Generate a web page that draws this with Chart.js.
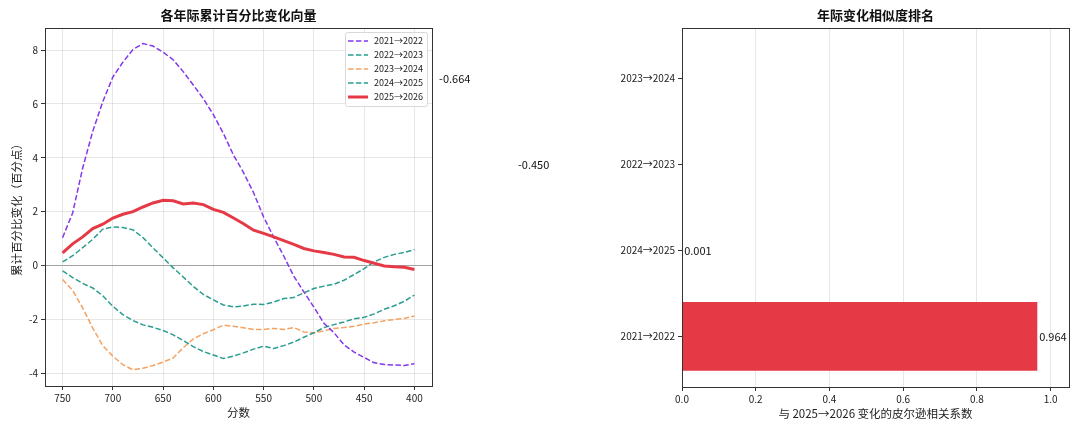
<!DOCTYPE html>
<html>
<head>
<meta charset="utf-8">
<script src="https://cdn.jsdelivr.net/npm/chart.js@4.4.1/dist/chart.umd.min.js"></script>
<style>
  html, body { margin: 0; padding: 0; background: #fff; }
  #wrap { position: relative; width: 1080px; height: 432px; }
  #leftBox { position: absolute; left: 0; top: 0; width: 445px; height: 432px; }
  #rightBox { position: absolute; left: 430px; top: 0; width: 650px; height: 432px; }
</style>
</head>
<body>
<div id="wrap">
  <div id="leftBox"><canvas id="lineChart"></canvas></div>
  <div id="rightBox"><canvas id="barChart"></canvas></div>
</div>
<script>
// ── Data ──
const scores = [750, 740, 730, 720, 710, 700, 690, 680, 670, 660, 650, 640, 630, 620, 610, 600, 590, 580,
                570, 560, 550, 540, 530, 520, 510, 500, 490, 480, 470, 460, 450, 440, 430, 420, 410, 400];

const chg2122 = [1.03, 1.95, 3.62, 4.98, 6.08, 7.00, 7.55, 8.02, 8.24, 8.15, 7.92, 7.64, 7.20, 6.70, 6.20, 5.60, 4.90, 4.10,
                 3.45, 2.70, 1.80, 1.05, 0.35, -0.40, -0.98, -1.55, -2.15, -2.50, -2.95, -3.22, -3.42, -3.62, -3.68, -3.70, -3.72, -3.65];
const chg2223 = [-0.20, -0.45, -0.67, -0.84, -1.13, -1.52, -1.83, -2.05, -2.21, -2.30, -2.42, -2.58, -2.79, -3.02, -3.20, -3.33, -3.46, -3.37,
                 -3.25, -3.11, -3.00, -3.09, -2.98, -2.85, -2.67, -2.50, -2.31, -2.20, -2.10, -1.98, -1.93, -1.80, -1.63, -1.50, -1.33, -1.10];
const chg2324 = [-0.52, -0.93, -1.58, -2.33, -2.98, -3.37, -3.69, -3.88, -3.82, -3.72, -3.59, -3.44, -3.06, -2.73, -2.54, -2.39, -2.22, -2.26,
                 -2.32, -2.38, -2.38, -2.34, -2.38, -2.31, -2.47, -2.51, -2.43, -2.34, -2.31, -2.26, -2.18, -2.13, -2.06, -2.01, -1.97, -1.88];
const chg2425 = [0.13, 0.36, 0.66, 0.97, 1.35, 1.43, 1.41, 1.32, 1.03, 0.65, 0.28, -0.09, -0.43, -0.78, -1.08, -1.28, -1.47, -1.54,
                 -1.51, -1.44, -1.45, -1.36, -1.23, -1.19, -1.02, -0.86, -0.77, -0.70, -0.55, -0.34, -0.12, 0.13, 0.30, 0.41, 0.48, 0.59];
const chg2526 = [0.47, 0.80, 1.06, 1.37, 1.53, 1.76, 1.90, 2.00, 2.17, 2.32, 2.42, 2.40, 2.28, 2.32, 2.26, 2.08, 1.97, 1.76,
                 1.55, 1.31, 1.19, 1.06, 0.92, 0.78, 0.63, 0.54, 0.48, 0.41, 0.31, 0.30, 0.18, 0.08, -0.02, -0.05, -0.07, -0.15];

const xTicks = [750, 700, 650, 600, 550, 500, 450, 400];
const yTicks = [-4, -2, 0, 2, 4, 6, 8];

// ranking, bottom to top
const rankLabels = ['2021→2022', '2024→2025', '2022→2023', '2023→2024'];
const rankCorr = [0.964, 0.001, -0.450, -0.664];
const corrTicks = [0, 0.2, 0.4, 0.6, 0.8, 1.0];

// ── Common ──
const FONT = '"Noto Sans CJK SC", "Noto Sans", sans-serif';
Chart.defaults.font.family = FONT;
Chart.defaults.color = '#222';
const GRID = 'rgba(176,176,176,0.3)';

const frameTitle = {
  id: 'frameTitle',
  afterDraw(chart, args, opts) {
    const ctx = chart.ctx;
    const a = chart.chartArea;
    ctx.save();
    ctx.strokeStyle = '#333';
    ctx.lineWidth = 1;
    ctx.strokeRect(Math.round(a.left) + 0.5, Math.round(a.top) + 0.5,
                   Math.round(a.right - a.left), Math.round(a.bottom - a.top));
    ctx.fillStyle = '#111';
    ctx.font = 'bold 13px ' + FONT;
    ctx.textAlign = 'center';
    ctx.textBaseline = 'middle';
    ctx.fillText(opts.text, (a.left + a.right) / 2, 15);
    ctx.restore();
  }
};

const innerLegend = {
  id: 'innerLegend',
  afterDatasetsDraw(chart) {
    const ctx = chart.ctx;
    const a = chart.chartArea;
    const sets = chart.data.datasets;
    ctx.save();
    ctx.font = '9px ' + FONT;
    let tw = 0;
    sets.forEach(d => { tw = Math.max(tw, ctx.measureText(d.label).width); });
    const w = 3 + 20 + 6 + tw + 4;
    const h = sets.length * 14 + 4;
    const x0 = a.right - 5 - w;
    const y0 = a.top + 4;
    ctx.fillStyle = 'rgba(255,255,255,0.85)';
    ctx.strokeStyle = '#d8d8d8';
    ctx.lineWidth = 1;
    ctx.beginPath();
    ctx.roundRect(x0 + 0.5, y0 + 0.5, w, h, 2);
    ctx.fill();
    ctx.stroke();
    sets.forEach((d, i) => {
      const y = y0 + 9 + i * 14;
      ctx.strokeStyle = d.borderColor;
      ctx.lineWidth = d.borderWidth;
      ctx.setLineDash(d.borderDash || []);
      ctx.beginPath();
      ctx.moveTo(x0 + 3, y);
      ctx.lineTo(x0 + 23, y);
      ctx.stroke();
      ctx.setLineDash([]);
      ctx.fillStyle = '#222';
      ctx.textAlign = 'left';
      ctx.textBaseline = 'middle';
      ctx.fillText(d.label, x0 + 29, y);
    });
    ctx.restore();
  }
};

const valueLabels = {
  id: 'valueLabels',
  afterDatasetsDraw(chart) {
    const ctx = chart.ctx;
    const xs = chart.scales.x;
    const ys = chart.scales.y;
    ctx.save();
    ctx.font = '11px ' + FONT;
    ctx.fillStyle = '#111';
    ctx.textAlign = 'left';
    ctx.textBaseline = 'middle';
    rankCorr.forEach((v, i) => {
      ctx.fillText(v.toFixed(3), xs.getPixelForValue(v + 0.005), ys.getPixelForValue(i));
    });
    ctx.restore();
  }
};

function dashed(label, data, color) {
  return {
    label: label,
    data: data.map((v, i) => ({ x: scores[i], y: v })),
    borderColor: color,
    borderWidth: 1.5,
    borderDash: [5.5, 2.4],
    pointRadius: 0,
    tension: 0,
    fill: false
  };
}

// ── Line chart ──
new Chart(document.getElementById('lineChart'), {
  type: 'line',
  data: {
    datasets: [
      dashed('2021→2022', chg2122, '#8338ec'),
      dashed('2022→2023', chg2223, '#2a9d8f'),
      dashed('2023→2024', chg2324, '#f4a261'),
      dashed('2024→2025', chg2425, '#2a9d8f'),
      {
        label: '2025→2026',
        data: chg2526.map((v, i) => ({ x: scores[i], y: v })),
        borderColor: '#e63946',
        borderWidth: 3,
        pointRadius: 0,
        tension: 0,
        fill: false,
        order: -1
      }
    ]
  },
  options: {
    responsive: true, maintainAspectRatio: false,
    animation: false,
    events: [],
    layout: { padding: { top: 28, right: 13, left: 0, bottom: 0 } },
    plugins: {
      legend: { display: false },
      tooltip: { enabled: false },
      frameTitle: { text: '各年际累计百分比变化向量' }
    },
    scales: {
      x: {
        type: 'linear',
        reverse: true,
        min: 382.5, max: 767.5,
        afterBuildTicks: s => { s.ticks = xTicks.map(v => ({ value: v })); },
        afterFit: s => { s.height = 46; },
        ticks: { font: { size: 10 }, padding: 2, color: '#222', maxRotation: 0 },
        grid: { color: GRID, tickColor: '#333', tickLength: 4 },
        border: { display: false },
        title: { display: true, text: '分数', font: { size: 11.5 }, padding: { top: 0, bottom: 12 }, color: '#222' }
      },
      y: {
        min: -4.48, max: 8.82,
        afterBuildTicks: s => { s.ticks = yTicks.map(v => ({ value: v })); },
        afterFit: s => { s.width = 45; },
        ticks: { font: { size: 10 }, padding: 3, color: '#222', callback: v => String(v) },
        grid: {
          color: c => (c.tick && c.tick.value === 0) ? '#999' : GRID,
          lineWidth: c => (c.tick && c.tick.value === 0) ? 0.9 : 1,
          tickColor: '#333', tickLength: 4
        },
        border: { display: false },
        title: { display: true, text: '累计百分比变化（百分点）', font: { size: 11.5 }, padding: { top: 10, bottom: 0 }, color: '#222' }
      }
    }
  },
  plugins: [frameTitle, innerLegend]
});

// ── Similarity ranking ──
new Chart(document.getElementById('barChart'), {
  type: 'bar',
  data: {
    datasets: [{
      data: rankCorr.map((v, i) => ({ x: v, y: i })),
      backgroundColor: '#e63946',
      borderWidth: 0,
      categoryPercentage: 1,
      barPercentage: 0.8
    }]
  },
  options: {
    indexAxis: 'y',
    responsive: true, maintainAspectRatio: false,
    animation: false,
    events: [],
    layout: { padding: { top: 28, right: 11, left: 0, bottom: 0 } },
    plugins: {
      legend: { display: false },
      tooltip: { enabled: false },
      frameTitle: { text: '年际变化相似度排名' }
    },
    scales: {
      x: {
        type: 'linear',
        min: 0, max: 1.05,
        offset: false,
        afterBuildTicks: s => { s.ticks = corrTicks.map(v => ({ value: v })); },
        afterFit: s => { s.height = 45; },
        ticks: { font: { size: 10 }, padding: 2, color: '#222', callback: v => v.toFixed(1) },
        grid: { offset: false, color: GRID, tickColor: '#333', tickLength: 4 },
        border: { display: false },
        title: { display: true, text: '与 2025→2026 变化的皮尔逊相关系数', font: { size: 11.5 }, padding: { top: 0, bottom: 11 }, color: '#222' }
      },
      y: {
        type: 'linear',
        min: -0.59, max: 3.59,
        offset: false,
        afterBuildTicks: s => { s.ticks = rankLabels.map((l, i) => ({ value: i })); },
        afterFit: s => { s.width = 252; },
        ticks: { font: { size: 10 }, padding: 3, color: '#222', callback: v => rankLabels[v] },
        grid: { offset: false, drawOnChartArea: false, tickColor: '#333', tickLength: 4 },
        border: { display: false }
      }
    }
  },
  plugins: [frameTitle, valueLabels]
});
</script>
</body>
</html>
